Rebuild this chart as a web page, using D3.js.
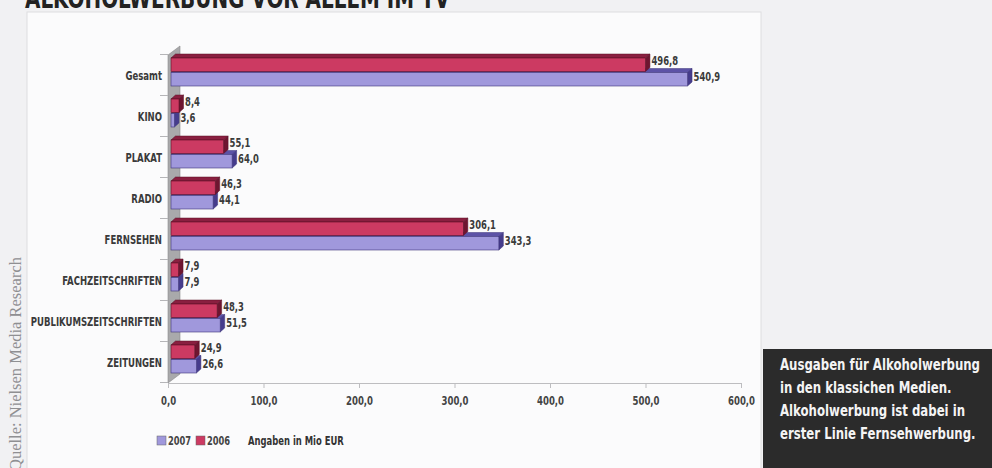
<!DOCTYPE html>
<html><head><meta charset="utf-8">
<script src="https://cdn.jsdelivr.net/npm/d3@7"></script>
<style>
html,body{margin:0;padding:0;background:#f2f2f4;}
svg{display:block;}
.cond{font-family:'Liberation Sans Narrow','DejaVu Sans Condensed','Roboto',sans-serif;font-weight:bold;}
</style></head>
<body>
<svg id="chart" width="992" height="468"></svg>
<script>
const title = "ALKOHOLWERBUNG VOR ALLEM IM TV";
const categories = ["Gesamt","KINO","PLAKAT","RADIO","FERNSEHEN","FACHZEITSCHRIFTEN","PUBLIKUMSZEITSCHRIFTEN","ZEITUNGEN"];
const values2006 = [496.8, 8.4, 55.1, 46.3, 306.1, 7.9, 48.3, 24.9];
const values2007 = [540.9, 3.6, 64.0, 44.1, 343.3, 7.9, 51.5, 26.6];
const seriesNames = ["2007","2006"];
const xTicks = [0,100,200,300,400,500,600];
const unitNote = "Angaben in Mio EUR";
const sourceNote = "Quelle: Nielsen Media Research";
const boxLines = ["Ausgaben für Alkoholwerbung","in den klassichen Medien.","Alkoholwerbung ist dabei in","erster Linie Fernsehwerbung."];

const svg = d3.select("#chart");
const loc = d3.formatLocale({decimal:",",thousands:".",grouping:[3],currency:["","€"]});
const fmt = loc.format(".1f");

// horizontally condense text (the reference uses a condensed face)
function condense(sel, f){
  sel.each(function(){
    const L = this.getComputedTextLength();
    this.setAttribute("textLength", (L*f).toFixed(2));
    this.setAttribute("lengthAdjust","spacingAndGlyphs");
  });
}

// background panel
svg.append("rect").attr("x",0).attr("y",0).attr("width",992).attr("height",468).attr("fill","#f1f1f3");
svg.append("rect").attr("x",27).attr("y",12).attr("width",734).attr("height",470)
  .attr("fill","#fbfbfc").attr("stroke","#dedee0").attr("stroke-width",1);

// title (cut off at top)
svg.append("text").attr("class","cond").attr("x",25).attr("y",8)
  .attr("font-size",28).attr("fill","#222").attr("textLength",425).attr("lengthAdjust","spacingAndGlyphs")
  .text(title);

const x = d3.scaleLinear().domain([0,600]).range([168,741]);
const y = d3.scaleBand().domain(categories).range([51.5,379.5]).padding(0);
const center = c => y(c) + y.bandwidth()/2;

// wall
const floorY = 383;
svg.append("polygon")
  .attr("points",[[168,55],[180,46],[180,374],[168,383]].map(p=>p.join(",")).join(" "))
  .attr("fill","#a9a9ab").attr("stroke","#8a8a8c").attr("stroke-width",0.6);
svg.append("polygon")
  .attr("points",[[164,58],[168,55],[180,46],[176,49]].map(p=>p.join(",")).join(" "))
  .attr("fill","#7d7d80");

// left category ticks
const edges = categories.map(c=>y(c)).concat([y.range()[1]]);
svg.append("g").selectAll("line").data(edges).join("line")
  .attr("x1",160).attr("x2",168).attr("y1",d=>d+3).attr("y2",d=>d+3)
  .attr("stroke","#b5b5b8").attr("stroke-width",1);

// x axis
const xAxis = d3.axisBottom(x).tickValues(xTicks).tickFormat(fmt).tickSize(5).tickSizeOuter(0);
const ax = svg.append("g").attr("transform",`translate(0,${floorY})`).call(xAxis);
ax.select(".domain").attr("stroke","#bdbdc0");
ax.selectAll(".tick line").attr("stroke","#bdbdc0");
ax.selectAll(".tick text").attr("class","cond").attr("font-size",12.5).attr("fill","#444").attr("dy","1.1em");
condense(ax.selectAll(".tick text"), 0.76);

// category labels
const catLabels = svg.append("g").selectAll("text").data(categories).join("text")
  .attr("class","cond").attr("x",162).attr("y",c=>center(c)+4)
  .attr("text-anchor","end").attr("dominant-baseline","middle")
  .attr("font-size",12).attr("fill","#3a3a3a").text(c=>c);
condense(catLabels, 0.79);

// 3D bars
const dx = 4.5, dy = 4, bh = 13.5;
const styles = {
  "2006":{front:"#cc3a62", top:"#8a1f40", side:"#6e1530", stroke:"#5a1026"},
  "2007":{front:"#a098dc", top:"#5c52a6", side:"#463c8c", stroke:"#3c347a"}
};
function drawBars(name, vals, offset, labelShift){
  const st = styles[name];
  const g = svg.append("g");
  categories.forEach((c,i)=>{
    const v = vals[i];
    const x0 = x(0)+3, x1 = x(v)+3;
    const yt = center(c) + offset;
    g.append("polygon").attr("points",[[x0,yt],[x0+dx,yt-dy],[x1+dx,yt-dy],[x1,yt]].map(p=>p.join(",")).join(" "))
      .attr("fill",st.top).attr("stroke",st.stroke).attr("stroke-width",0.5);
    g.append("polygon").attr("points",[[x1,yt],[x1+dx,yt-dy],[x1+dx,yt+bh-dy],[x1,yt+bh]].map(p=>p.join(",")).join(" "))
      .attr("fill",st.side).attr("stroke",st.stroke).attr("stroke-width",0.5);
    g.append("rect").attr("x",x0).attr("y",yt).attr("width",Math.max(0,x1-x0)).attr("height",bh)
      .attr("fill",st.front).attr("stroke",st.stroke).attr("stroke-width",0.6);
    const t = g.append("text").attr("class","cond").attr("x",x1+dx+1.5).attr("y",yt+bh/2+labelShift)
      .attr("dominant-baseline","middle").attr("font-size",12).attr("fill","#3a3a3a").text(fmt(v));
    condense(t, 0.78);
  });
}
drawBars("2007", values2007, 0.5, -1.5);
drawBars("2006", values2006, -14, -3);

// legend
const lg = svg.append("g");
const legendItems = [{name:"2007",color:styles["2007"].front,x:157},{name:"2006",color:styles["2006"].front,x:196}];
legendItems.forEach(it=>{
  lg.append("rect").attr("x",it.x).attr("y",436).attr("width",9).attr("height",9)
    .attr("fill",it.color).attr("stroke","#666").attr("stroke-width",0.5);
  const t = lg.append("text").attr("class","cond").attr("x",it.x+11).attr("y",441).attr("dominant-baseline","middle")
    .attr("font-size",12.5).attr("fill","#444").text(it.name);
  condense(t, 0.74);
});
const un = lg.append("text").attr("class","cond").attr("x",248).attr("y",441).attr("dominant-baseline","middle")
  .attr("font-size",13).attr("fill","#333").text(unitNote);
condense(un, 0.72);

// source note (rotated)
svg.append("text").attr("transform","translate(21,468) rotate(-90)")
  .attr("font-family","'Liberation Serif','DejaVu Serif',serif").attr("font-size",16.5).attr("fill","#8f8f92")
  .attr("x",-3).text(sourceNote);

// info box
svg.append("rect").attr("x",763).attr("y",349).attr("width",229).attr("height",119).attr("fill","#2b2b2b");
const boxT = svg.append("g").selectAll("text").data(boxLines).join("text")
  .attr("class","cond").attr("x",780).attr("y",(d,i)=>365+i*23).attr("dominant-baseline","middle")
  .attr("font-size",16).attr("fill","#f4f4f4").text(d=>d);
const f0 = 200 / boxT.nodes()[0].getComputedTextLength();
condense(boxT, f0);
</script>
</body></html>
